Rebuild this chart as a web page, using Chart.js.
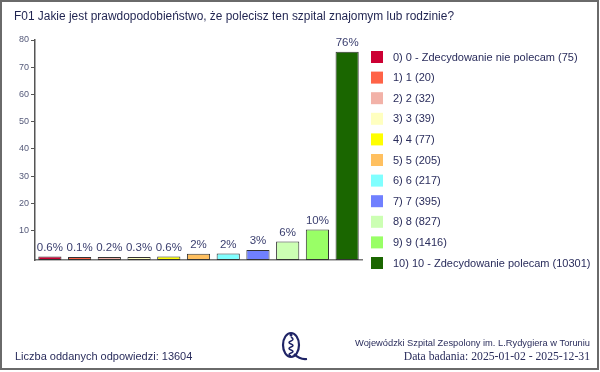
<!DOCTYPE html>
<html>
<head>
<meta charset="utf-8">
<script src="https://cdn.jsdelivr.net/npm/chart.js@4/dist/chart.umd.min.js"></script>
<style>
  html, body { margin: 0; padding: 0; background: #fff; }
  #wrap { width: 600px; height: 372px; }
</style>
</head>
<body>
<div id="wrap"><canvas id="chart"></canvas></div>
<script>
// data
const titleText = "F01 Jakie jest prawdopodobieństwo, że polecisz ten szpital znajomym lub rodzinie?";
const legendLabels = [
  "0) 0 - Zdecydowanie nie polecam (75)",
  "1) 1 (20)",
  "2) 2 (32)",
  "3) 3 (39)",
  "4) 4 (77)",
  "5) 5 (205)",
  "6) 6 (217)",
  "7) 7 (395)",
  "8) 8 (827)",
  "9) 9 (1416)",
  "10) 10 - Zdecydowanie polecam (10301)",
];
const percents = [0.55, 0.15, 0.24, 0.29, 0.57, 1.51, 1.6, 2.9, 6.08, 10.41, 75.72];
const valueLabels = ["0.6%", "0.1%", "0.2%", "0.3%", "0.6%", "2%", "2%", "3%", "6%", "10%", "76%"];
const barColors = [
  "#cc0033", "#ff6347", "#f2b2a8", "#ffffc0", "#ffff00", "#ffc060",
  "#80ffff", "#7080ff", "#ccffb3", "#99ff66", "#1a6600",
];
const yTicks = [10, 20, 30, 40, 50, 60, 70, 80];
const answersText = "Liczba oddanych odpowiedzi: 13604";
const hospitalText = "Wojewódzki Szpital Zespolony im. L.Rydygiera w Toruniu";
const dateText = "Data badania: 2025-01-02 - 2025-12-31";

const navy = "#2a2d5c";
// the x axis sits a little below zero in the original
const axisFloor = -0.75;

const valueLabelPlugin = {
  id: "valueLabels",
  afterDatasetsDraw: (chart) => {
    const { ctx } = chart;
    const meta = chart.getDatasetMeta(0);
    ctx.save();
    ctx.font = "11.5px 'Liberation Sans', sans-serif";
    ctx.fillStyle = "#3c4070";
    ctx.textAlign = "center";
    ctx.textBaseline = "bottom";
    meta.data.forEach((bar, i) => {
      ctx.fillText(valueLabels[i], bar.x, bar.y - 3);
    });
    ctx.restore();
  },
};

// legend on the right, one row per category
const sideLegendPlugin = {
  id: "sideLegend",
  afterDraw: (chart) => {
    const { ctx } = chart;
    ctx.save();
    ctx.font = "11px 'Liberation Sans', sans-serif";
    ctx.textAlign = "left";
    ctx.textBaseline = "middle";
    chart.data.labels.forEach((text, i) => {
      const y = 57 + i * 20.6;
      ctx.fillStyle = barColors[i];
      ctx.fillRect(371, y - 6, 12, 12);
      ctx.fillStyle = navy;
      ctx.fillText(text, 393, y + 0.5);
    });
    ctx.restore();
  },
};

const footerPlugin = {
  id: "footer",
  afterDraw: (chart) => {
    const { ctx } = chart;
    ctx.save();
    // frame
    ctx.strokeStyle = "#6a6a6a";
    ctx.lineWidth = 2;
    ctx.strokeRect(1, 1, 597, 368);
    // title
    ctx.fillStyle = "#1f2350";
    ctx.textBaseline = "middle";
    ctx.textAlign = "left";
    ctx.font = "12.5px 'Liberation Sans', sans-serif";
    ctx.fillText(titleText, 14, 17, 440);
    // answer count
    ctx.fillStyle = navy;
    ctx.textBaseline = "alphabetic";
    ctx.font = "11px 'Liberation Sans', sans-serif";
    ctx.fillText(answersText, 15, 360);
    // hospital + date
    ctx.textAlign = "right";
    ctx.font = "9.3px 'Liberation Sans', sans-serif";
    ctx.fillText(hospitalText, 590, 346);
    ctx.font = "11.7px 'Liberation Serif', serif";
    ctx.fillText(dateText, 590, 360);
    // logo
    ctx.strokeStyle = "#1f2466";
    ctx.lineWidth = 2.2;
    ctx.beginPath();
    ctx.ellipse(291, 345, 8, 12, 0, 0, Math.PI * 2);
    ctx.stroke();
    ctx.beginPath();
    ctx.moveTo(294, 354);
    ctx.quadraticCurveTo(300, 360, 307, 359);
    ctx.stroke();
    ctx.lineWidth = 1.5;
    ctx.beginPath();
    ctx.moveTo(291, 337);
    for (let k = 0; k < 6; k++) {
      const yy = 338 + k * 3;
      ctx.quadraticCurveTo(k % 2 ? 287 : 295, yy + 1.5, 291, yy + 3);
    }
    ctx.stroke();
    ctx.fillStyle = "#1f2466";
    ctx.beginPath();
    ctx.arc(291, 335, 1.5, 0, Math.PI * 2);
    ctx.fill();
    ctx.restore();
  },
};

new Chart(document.getElementById("chart"), {
  type: "bar",
  data: {
    labels: legendLabels,
    datasets: [
      {
        data: percents,
        base: axisFloor,
        backgroundColor: barColors,
        borderColor: "#333333",
        borderWidth: 1,
        borderSkipped: false,
        barPercentage: 0.78,
        categoryPercentage: 1,
        minBarLength: 3,
      },
    ],
  },
  options: {
    responsive: true,
    maintainAspectRatio: false,
    animation: false,
    layout: { padding: { left: 17, right: 238, top: 40, bottom: 112 } },
    plugins: {
      title: { display: false },
      legend: { display: false },
      tooltip: { enabled: false },
    },
    scales: {
      x: {
        grid: { display: false, drawTicks: false },
        ticks: { display: false },
        border: { display: true, color: "#777", width: 1.5 },
      },
      y: {
        min: axisFloor,
        max: 80,
        afterBuildTicks: (axis) => {
          axis.ticks = yTicks.map((v) => ({ value: v }));
        },
        grid: { drawOnChartArea: false, drawTicks: true, tickLength: 4, color: "#555" },
        border: { display: true, color: "#555", width: 1.5 },
        ticks: {
          color: "#555a7a",
          padding: 2,
          font: { family: "'Liberation Sans', sans-serif", size: 9 },
        },
      },
    },
  },
  plugins: [valueLabelPlugin, sideLegendPlugin, footerPlugin],
});
</script>
</body>
</html>
